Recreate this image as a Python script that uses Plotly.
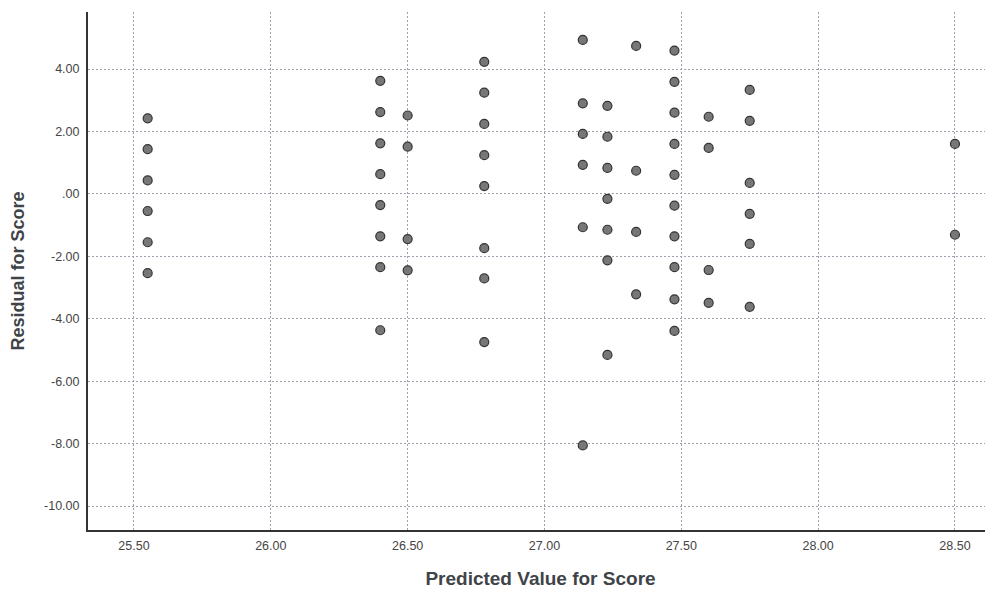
import plotly.graph_objects as go

# Predicted values (x) and residuals (y)
predicted = (
    [25.55] * 6
    + [26.40] * 8
    + [26.50] * 4
    + [26.78] * 8
    + [27.14] * 6
    + [27.23] * 7
    + [27.335] * 4
    + [27.475] * 10
    + [27.60] * 4
    + [27.75] * 6
    + [28.50] * 2
)
residual = (
    [2.42, 1.43, 0.43, -0.55, -1.55, -2.54]
    + [3.62, 2.62, 1.62, 0.63, -0.36, -1.36, -2.35, -4.37]
    + [2.51, 1.51, -1.45, -2.45]
    + [4.23, 3.24, 2.24, 1.24, 0.25, -1.74, -2.71, -4.75]
    + [4.93, 2.90, 1.92, 0.93, -1.07, -8.06]
    + [2.82, 1.83, 0.83, -0.16, -1.15, -2.13, -5.16]
    + [4.74, 0.74, -1.22, -3.22]
    + [4.59, 3.59, 2.60, 1.60, 0.61, -0.38, -1.36, -2.35, -3.38, -4.39]
    + [2.47, 1.47, -2.44, -3.49]
    + [3.33, 2.34, 0.35, -0.64, -1.60, -3.62]
    + [1.60, -1.31]
)

x_tickvals = [25.5, 26.0, 26.5, 27.0, 27.5, 28.0, 28.5]
x_ticktext = ["25.50", "26.00", "26.50", "27.00", "27.50", "28.00", "28.50"]
y_tickvals = [4, 2, 0, -2, -4, -6, -8, -10]
y_ticktext = ["4.00", "2.00", ".00", "-2.00", "-4.00", "-6.00", "-8.00", "-10.00"]

fig = go.Figure(
    go.Scatter(
        x=predicted,
        y=residual,
        mode="markers",
        marker=dict(size=9, color="#777777", line=dict(color="#333333", width=1.2)),
        hoverinfo="x+y",
    )
)

font_family = "Liberation Sans, Arial, sans-serif"
# The page body has an 8px margin, so the figure is sized to fill the rest of the window
fig.update_layout(
    width=985,
    height=581,
    margin=dict(l=80, r=0, t=4, b=59),
    paper_bgcolor="white",
    plot_bgcolor="white",
    showlegend=False,
    font=dict(family=font_family, color="#3a3a3a"),
)
fig.update_xaxes(
    range=[25.332, 28.639],
    tickvals=x_tickvals,
    ticktext=x_ticktext,
    tickfont=dict(size=12.5, color="#444444"),
    showgrid=True,
    gridcolor="#9aa1ad",
    griddash="2px,2px",
    gridwidth=1,
    zeroline=False,
    showline=True,
    linecolor="#333333",
    linewidth=2,
    ticks="",
    ticklabelstandoff=3,
    automargin=False,
    title=dict(
        text="Predicted Value for Score",
        font=dict(size=19, color="#404448", family=font_family, weight="bold"),
        standoff=22,
    ),
)
fig.update_yaxes(
    range=[-10.769, 5.826],
    tickvals=y_tickvals,
    ticktext=y_ticktext,
    tickfont=dict(size=12.5, color="#444444"),
    showgrid=True,
    gridcolor="#9aa1ad",
    griddash="2px,2px",
    gridwidth=1,
    zeroline=False,
    showline=True,
    linecolor="#333333",
    linewidth=2,
    ticks="",
    ticklabelstandoff=4,
    automargin=False,
    title=dict(
        text="Residual for Score",
        font=dict(size=18, color="#404448", family=font_family, weight="bold"),
        standoff=15,
    ),
)

fig.write_html("out.html")
